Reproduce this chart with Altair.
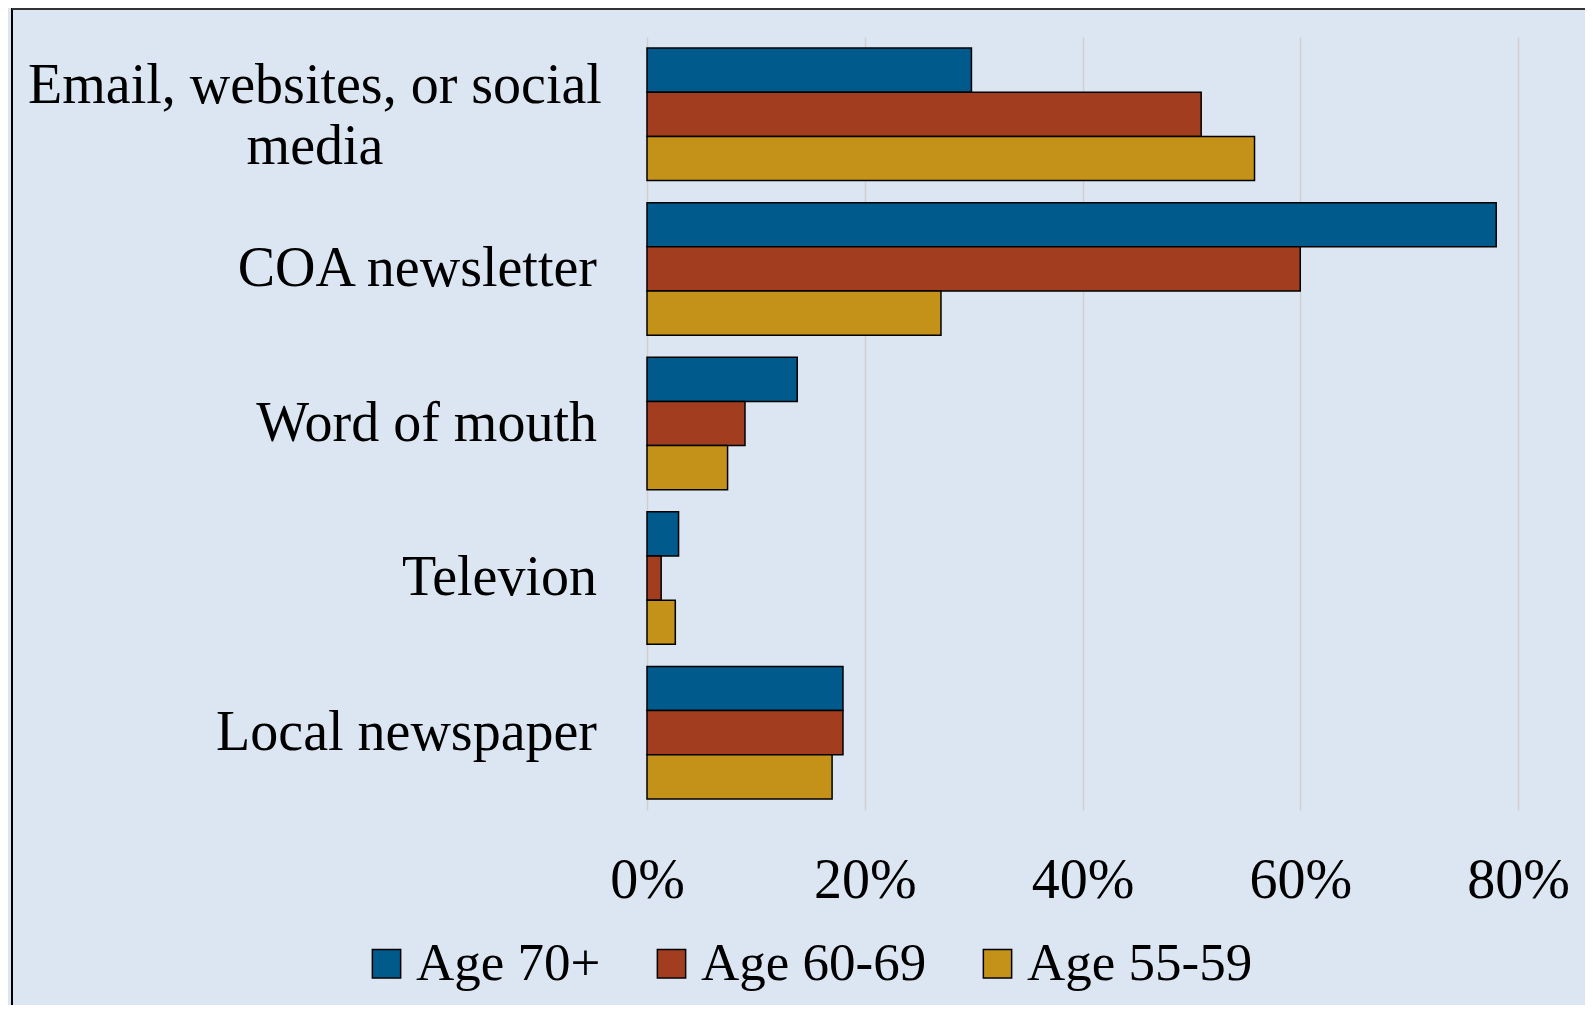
import altair as alt
import pandas as pd

categories = ["Email, websites, or social media", "COA newsletter", "Word of mouth",
              "Televion", "Local newspaper"]
groups = ["Age 70+", "Age 60-69", "Age 55-59"]
age70 = [29.8, 78, 13.8, 2.9, 18]
age60 = [50.9, 60, 9, 1.3, 18]
age55 = [55.8, 27, 7.4, 2.6, 17]
colors = ["#005A8C", "#A33D1F", "#C49218"]
x_ticks = [0, 20, 40, 60, 80]

rows = []
for i, c in enumerate(categories):
    for g, vals in zip(groups, [age70, age60, age55]):
        rows.append({"category": c, "group": g, "value": vals[i]})
df = pd.DataFrame(rows)

FONT = "Liberation Serif"

yscale = alt.Scale(domain=categories, paddingInner=0.143, paddingOuter=0.0715)

bars = alt.Chart(df).mark_bar(stroke="black", strokeWidth=1.5).encode(
    x=alt.X("value:Q", scale=alt.Scale(domain=[0, 80], nice=False),
            axis=alt.Axis(values=x_ticks, labelExpr="datum.value + '%'", title=None,
                          ticks=False, tickSize=0, domain=False, grid=True,
                          gridColor="#d0d0d0", gridWidth=1.5,
                          labelFlush=False, labelOverlap=False, labelAlign="center",
                          labelFont=FONT, labelFontSize=56, labelColor="black",
                          labelBaseline="alphabetic", labelPadding=87)),
    y=alt.Y("category:N", scale=yscale, sort=categories, axis=None),
    yOffset=alt.YOffset("group:N", sort=groups,
                        scale=alt.Scale(domain=groups, paddingInner=0, paddingOuter=0)),
    color=alt.Color("group:N", sort=groups,
                    scale=alt.Scale(domain=groups, range=colors),
                    legend=alt.Legend(orient="none", legendX=-287, legendY=900,
                                      direction="horizontal", title=None,
                                      symbolType="square", symbolSize=800,
                                      symbolStrokeColor="black", symbolStrokeWidth=1.5,
                                      labelFont=FONT, labelFontSize=53, labelColor="black",
                                      labelLimit=0, labelOffset=3, columnPadding=44,
                                      padding=0)),
)

lab_single = pd.DataFrame({"category": categories[1:]})
lab_multi = pd.DataFrame({"category": categories[:1],
                          "text": ["Email, websites, or social\nmedia"]})

labels1 = alt.Chart(lab_single).mark_text(
    align="right", baseline="middle", font=FONT, fontSize=56, color="black"
).encode(
    y=alt.Y("category:N", scale=yscale, sort=categories, axis=None),
    x=alt.value(-50),
    text="category:N",
)

labels2 = alt.Chart(lab_multi).mark_text(
    align="center", baseline="middle", font=FONT, fontSize=56, color="black",
    lineBreak="\n", lineHeight=61, dy=-28
).encode(
    y=alt.Y("category:N", scale=yscale, sort=categories, axis=None),
    x=alt.value(-332),
    text="text:N",
)

left_border = alt.Chart(lab_multi).mark_rule(color="black", strokeWidth=2).encode(
    x=alt.value(-635), y=alt.value(-29), y2=alt.value(1000))
top_border = alt.Chart(lab_multi).mark_rule(color="#333333", strokeWidth=2).encode(
    x=alt.value(-635), x2=alt.value(1000), y=alt.value(-28))

chart = alt.layer(bars, labels1, labels2, left_border, top_border).properties(
    width=871, height=773,
    autosize=alt.AutoSizeParams(type="none"),
    padding={"left": 639, "top": 29, "right": 67, "bottom": 195},
    background="#dce6f2",
).configure_view(stroke=None)

chart.save("out.html", embed_options={"renderer": "svg", "actions": False})
